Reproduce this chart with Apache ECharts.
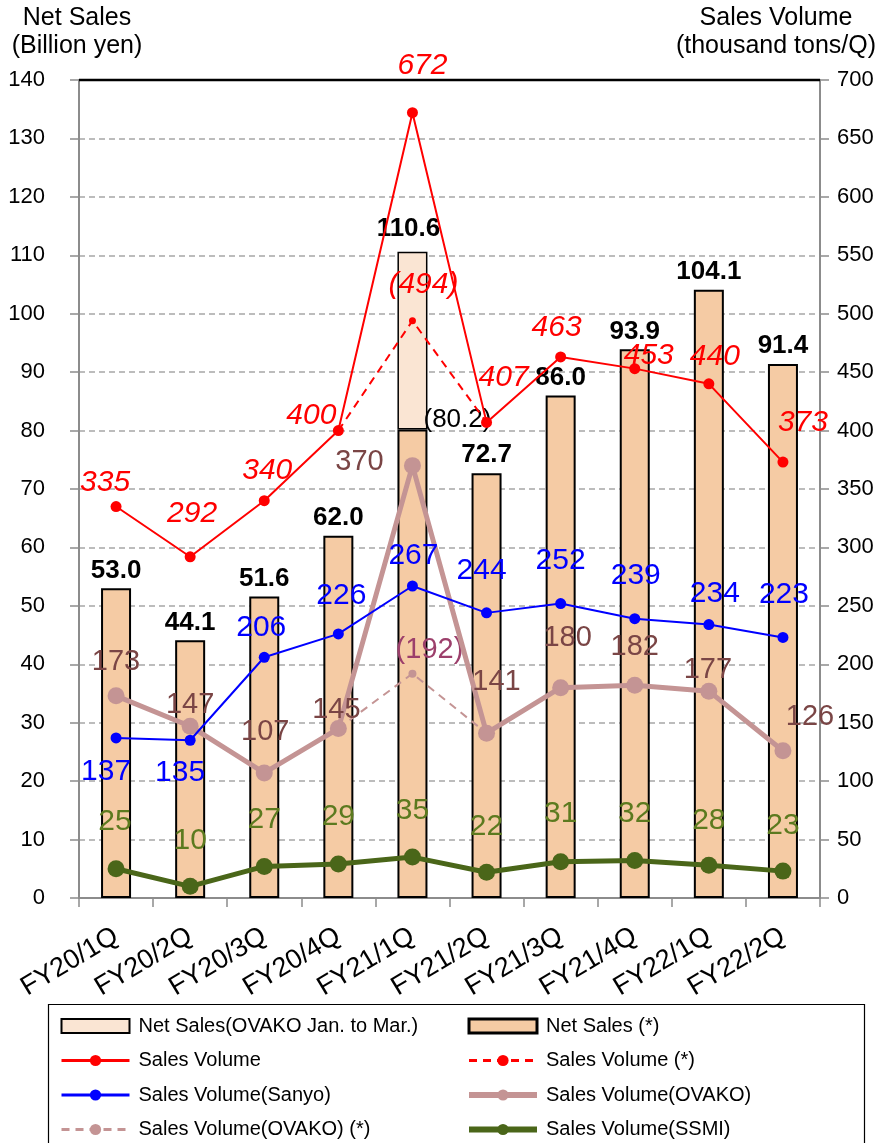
<!DOCTYPE html>
<html>
<head>
<meta charset="utf-8">
<script src="https://cdn.jsdelivr.net/npm/echarts@6/dist/echarts.min.js"></script>
<style>
html,body{margin:0;padding:0;background:#fff;}
#chart{width:881px;height:1143px;}
</style>
</head>
<body>
<div id="chart"></div>
<script>
// ---------- data ----------
const categories = ['FY20/1Q','FY20/2Q','FY20/3Q','FY20/4Q','FY21/1Q','FY21/2Q','FY21/3Q','FY21/4Q','FY22/1Q','FY22/2Q'];
const netSalesStar = [53.0, 44.1, 51.6, 62.0, 80.2, 72.7, 86.0, 93.9, 104.1, 91.4];
const netSalesOvakoJanMar = [null, null, null, null, 30.4, null, null, null, null, null];
const salesVolume = [335, 292, 340, 400, 672, 407, 463, 453, 440, 373];
const salesVolumeStar = [null, null, null, 400, 494, 407, null, null, null, null];
const salesVolumeSanyo = [137, 135, 206, 226, 267, 244, 252, 239, 234, 223];
const salesVolumeOvako = [173, 147, 107, 145, 370, 141, 180, 182, 177, 126];
const salesVolumeOvakoStar = [null, null, null, 145, 192, 141, null, null, null, null];
const salesVolumeSSMI = [25, 10, 27, 29, 35, 22, 31, 32, 28, 23];
const leftTicks = {min: 0, max: 140, interval: 10};
const rightTicks = {min: 0, max: 700, interval: 50};

// ---------- label placement (dx, dy from point centre) ----------
const labelShift = {
  sv:    [[-11,-24],[2,-43],[3,-30],[-27,-15],[10,-47],[17,-45],[-4,-29],[14,-13],[6,-27],[20,-39]],
  svStar:[null,null,null,null,[11,-36],null,null,null,null,null],
  sanyo: [[-10,34],[-10,32],[-3,-30],[3,-38],[1,-30],[-5,-42],[0,-43],[1,-43],[6,-31],[1,-43]],
  ovako: [[0,-34],[0,-21],[1,-41],[-2,-19],[-53,-4],[10,-51],[7,-50],[0,-38],[-1,-21],[27,-34]],
  ovStar:[null,null,null,null,[17,-24],null,null,null,null,null],
  ssmi:  [[-1,-47],[0,-46],[0,-47],[0,-47],[0,-46],[0,-46],[0,-48],[0,-47],[0,-45],[0,-45]]
};

const FONT = "'Liberation Sans', Arial, sans-serif";

function pointData(values, shifts, labelStyle, fmt) {
  return values.map((v, i) => {
    if (v === null) return {value: null};
    const s = shifts[i];
    if (!s) return {value: v, label: {show: false}};
    return {
      value: v,
      label: Object.assign({
        show: true, position: 'inside', offset: s,
        formatter: fmt || (p => String(p.value))
      }, labelStyle)
    };
  });
}

const netStarData = netSalesStar.map((v, i) => {
  if (netSalesOvakoJanMar[i] !== null) {
    return {value: v, label: {show: true, position: 'top', distance: 0, offset: [45, 3],
      fontWeight: 'normal', formatter: p => '(' + p.value.toFixed(1) + ')'}};
  }
  return {value: v};
});
const ovakoJanMarData = netSalesOvakoJanMar.map((v, i) => {
  if (v === null) return {value: null};
  return {value: v, label: {show: true, position: 'top', distance: 10, offset: [-4, 0],
    formatter: () => (netSalesStar[i] + v).toFixed(1)}};
});

const chart = echarts.init(document.getElementById('chart'), null, {renderer: 'canvas'});

const axisGray = '#8c8c8c';
const legendText = {fontSize: 20, color: '#000', fontFamily: FONT, lineHeight: 22, padding: [0, 0, 0, 4]};

const option = {
  backgroundColor: '#fff',
  animation: false,
  textStyle: {fontFamily: FONT},
  grid: {left: 79, right: 61, top: 80, bottom: 245, containLabel: false},
  graphic: [
    {type: 'text', x: 77, y: 4, style: {text: 'Net Sales\n(Billion yen)', fill: '#000',
      font: "25px 'Liberation Sans', Arial", textAlign: 'center', lineHeight: 28}},
    {type: 'text', x: 776, y: 4, style: {text: 'Sales Volume\n(thousand tons/Q)', fill: '#000',
      font: "25px 'Liberation Sans', Arial", textAlign: 'center', lineHeight: 28}},
    {type: 'line', shape: {x1: 79, y1: 80, x2: 820, y2: 80},
      style: {stroke: '#000', lineWidth: 2.5}, z: 20},
    {type: 'rect', shape: {x: 48.5, y: 1004.5, width: 816, height: 150},
      style: {fill: 'none', stroke: '#000', lineWidth: 1.2}, z: 10}
  ],
  legend: [
    {
      orient: 'vertical', left: 60, top: 1015, padding: 0, height: 140,
      itemWidth: 68, itemHeight: 14, itemGap: 12.5, textStyle: legendText,
      data: [
        {name: 'Net Sales(OVAKO Jan. to Mar.)', icon: 'rect', itemStyle: {borderWidth: 2}},
        {name: 'Sales Volume', lineStyle: {width: 3}},
        {name: 'Sales Volume(Sanyo)', lineStyle: {width: 3}},
        {name: 'Sales Volume(OVAKO) (*)', lineStyle: {width: 3}}
      ]
    },
    {
      orient: 'vertical', left: 466, top: 1015, padding: 0, height: 140,
      itemWidth: 68, itemHeight: 14, itemGap: 12.5, textStyle: legendText,
      data: [
        {name: 'Net Sales (*)', icon: 'rect', itemStyle: {borderWidth: 3}},
        {name: 'Sales Volume (*)', lineStyle: {width: 3}},
        {name: 'Sales Volume(OVAKO)', lineStyle: {width: 6}},
        {name: 'Sales Volume(SSMI)', lineStyle: {width: 6}}
      ]
    }
  ],
  xAxis: [
    {
      type: 'category', data: categories, position: 'bottom', boundaryGap: true,
      axisLine: {lineStyle: {color: axisGray, width: 2}},
      axisTick: {show: true, alignWithLabel: false, length: 9, lineStyle: {color: axisGray, width: 1.5}},
      axisLabel: {rotate: 31, margin: 36, fontSize: 27, color: '#000', fontFamily: FONT, interval: 0}
    }
  ],
  yAxis: [
    {
      type: 'value', min: leftTicks.min, max: leftTicks.max, interval: leftTicks.interval, position: 'left',
      axisLine: {show: true, lineStyle: {color: axisGray, width: 2}},
      axisTick: {show: true, inside: false, length: 9, lineStyle: {color: axisGray, width: 1.5}},
      axisLabel: {margin: 34, fontSize: 22, color: '#000', fontFamily: FONT},
      splitLine: {show: true, lineStyle: {color: '#a6a6a6', width: 1.5, type: [6, 4]}}
    },
    {
      type: 'value', min: rightTicks.min, max: rightTicks.max, interval: rightTicks.interval, position: 'right',
      axisLine: {show: true, lineStyle: {color: axisGray, width: 2}},
      axisTick: {show: true, inside: false, length: 9, lineStyle: {color: axisGray, width: 1.5}},
      axisLabel: {margin: 17, fontSize: 22, color: '#000', fontFamily: FONT},
      splitLine: {show: false}
    }
  ],
  series: [
    {
      name: 'Net Sales (*)', type: 'bar', stack: 'ns', barWidth: 30, yAxisIndex: 0,
      itemStyle: {color: '#F5CBA4', borderColor: '#000', borderWidth: 2},
      label: {show: true, position: 'top', distance: 5, fontSize: 26, fontWeight: 'bold', color: '#000',
        fontFamily: FONT, formatter: p => p.value.toFixed(1)},
      data: netStarData, z: 2
    },
    {
      name: 'Net Sales(OVAKO Jan. to Mar.)', type: 'bar', stack: 'ns', barWidth: 30, yAxisIndex: 0,
      itemStyle: {color: '#FAE5D3', borderColor: '#000', borderWidth: 1.5},
      label: {show: false, fontSize: 26, fontWeight: 'bold', color: '#000', fontFamily: FONT},
      data: ovakoJanMarData, z: 2
    },
    {
      name: 'Sales Volume(OVAKO) (*)', type: 'line', yAxisIndex: 1, symbol: 'circle', symbolSize: 8,
      lineStyle: {color: '#C49494', width: 2, type: [8, 6]}, itemStyle: {color: '#C49494'},
      data: pointData(salesVolumeOvakoStar, labelShift.ovStar, {fontSize: 29, color: '#9C3F6B', fontFamily: FONT},
        p => '(' + p.value + ')'),
      z: 3
    },
    {
      name: 'Sales Volume(OVAKO)', type: 'line', yAxisIndex: 1, symbol: 'circle', symbolSize: 17,
      lineStyle: {color: '#C49494', width: 5}, itemStyle: {color: '#C49494'},
      data: pointData(salesVolumeOvako, labelShift.ovako, {fontSize: 29, color: '#7A4545', fontFamily: FONT}),
      z: 4
    },
    {
      name: 'Sales Volume(SSMI)', type: 'line', yAxisIndex: 1, symbol: 'circle', symbolSize: 17,
      lineStyle: {color: '#4A6619', width: 5}, itemStyle: {color: '#4A6619'},
      data: pointData(salesVolumeSSMI, labelShift.ssmi, {fontSize: 30, color: '#5C7A1F', fontFamily: FONT}),
      z: 4
    },
    {
      name: 'Sales Volume(Sanyo)', type: 'line', yAxisIndex: 1, symbol: 'circle', symbolSize: 11,
      lineStyle: {color: '#0000FF', width: 2}, itemStyle: {color: '#0000FF'},
      data: pointData(salesVolumeSanyo, labelShift.sanyo, {fontSize: 30, color: '#0000FF', fontFamily: FONT}),
      z: 5
    },
    {
      name: 'Sales Volume (*)', type: 'line', yAxisIndex: 1, symbol: 'circle', symbolSize: 7,
      lineStyle: {color: '#FF0000', width: 2, type: [8, 6]}, itemStyle: {color: '#FF0000'},
      data: pointData(salesVolumeStar, labelShift.svStar, {fontSize: 30, color: '#FF0000', fontStyle: 'italic', fontFamily: FONT},
        p => '(' + p.value + ')'),
      z: 5
    },
    {
      name: 'Sales Volume', type: 'line', yAxisIndex: 1, symbol: 'circle', symbolSize: 11,
      lineStyle: {color: '#FF0000', width: 2}, itemStyle: {color: '#FF0000'},
      data: pointData(salesVolume, labelShift.sv, {fontSize: 30, color: '#FF0000', fontStyle: 'italic', fontFamily: FONT}),
      z: 6
    }
  ]
};
chart.setOption(option);
</script>
</body>
</html>
